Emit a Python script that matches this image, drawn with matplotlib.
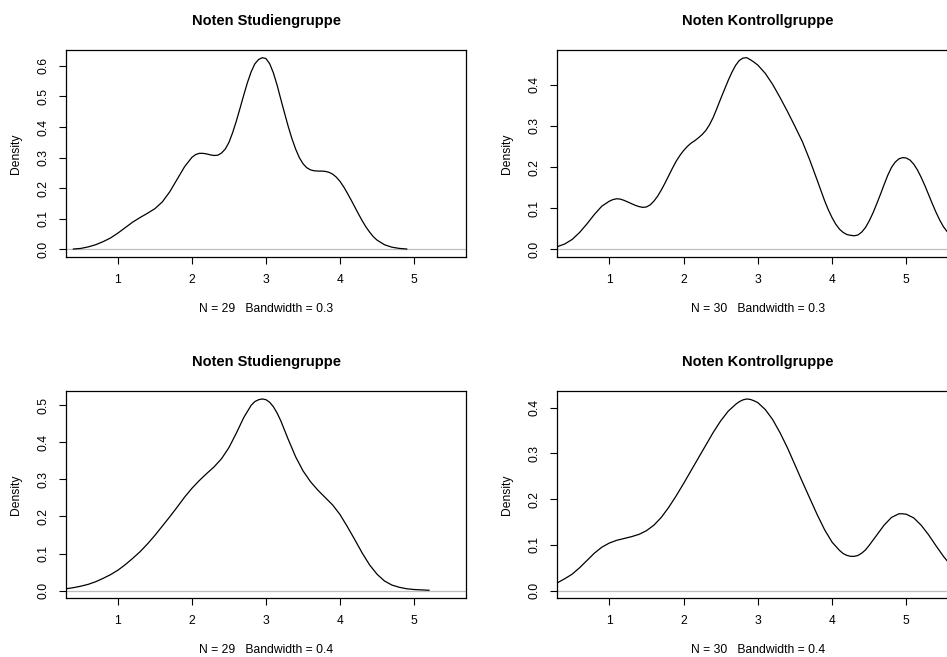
import matplotlib
matplotlib.use("Agg")
import matplotlib.pyplot as plt

plt.rcParams['font.family'] = ['Liberation Sans', 'DejaVu Sans']

# ---- Data (density curves) ----
studien_bw03_x = [0.40, 0.50, 0.60, 0.70, 0.80, 0.90, 1.00, 1.10, 1.20, 1.30, 1.40, 1.50, 1.60,
                  1.70, 1.80, 1.90, 2.00, 2.05, 2.10, 2.15, 2.20, 2.25, 2.30, 2.35, 2.40, 2.45,
                  2.50, 2.55, 2.60, 2.65, 2.70, 2.75, 2.80, 2.85, 2.90, 2.95, 3.00, 3.05, 3.10,
                  3.15, 3.20, 3.25, 3.30, 3.35, 3.40, 3.45, 3.50, 3.55, 3.60, 3.65, 3.70, 3.75,
                  3.80, 3.85, 3.90, 3.95, 4.00, 4.05, 4.10, 4.15, 4.20, 4.25, 4.30, 4.35, 4.40,
                  4.45, 4.50, 4.60, 4.70, 4.80, 4.90]
studien_bw03_y = [0.001, 0.003, 0.008, 0.015, 0.025, 0.037, 0.053, 0.071, 0.089, 0.104, 0.118, 0.133, 0.155,
                  0.188, 0.229, 0.270, 0.301, 0.310, 0.314, 0.314, 0.312, 0.309, 0.307, 0.308, 0.315, 0.328,
                  0.350, 0.382, 0.420, 0.462, 0.505, 0.546, 0.581, 0.607, 0.621, 0.627, 0.624, 0.607, 0.577,
                  0.537, 0.491, 0.446, 0.402, 0.362, 0.328, 0.300, 0.280, 0.267, 0.260, 0.257, 0.256, 0.256,
                  0.255, 0.252, 0.246, 0.236, 0.222, 0.204, 0.183, 0.161, 0.138, 0.115, 0.093, 0.073, 0.056,
                  0.041, 0.030, 0.015, 0.007, 0.003, 0.001]

kontroll_bw03_x = [0.30, 0.40, 0.50, 0.60, 0.70, 0.80, 0.90, 1.00, 1.05, 1.10, 1.15, 1.20, 1.25,
                   1.30, 1.35, 1.40, 1.45, 1.50, 1.55, 1.60, 1.65, 1.70, 1.75, 1.80, 1.85, 1.90,
                   1.95, 2.00, 2.05, 2.10, 2.15, 2.20, 2.25, 2.30, 2.35, 2.40, 2.45, 2.50, 2.55,
                   2.60, 2.65, 2.70, 2.75, 2.80, 2.85, 2.90, 2.95, 3.00, 3.10, 3.20, 3.30, 3.40,
                   3.50, 3.60, 3.70, 3.80, 3.90, 3.95, 4.00, 4.05, 4.10, 4.15, 4.20, 4.25, 4.30,
                   4.35, 4.40, 4.45, 4.50, 4.55, 4.60, 4.65, 4.70, 4.75, 4.80, 4.85, 4.90, 4.95,
                   5.00, 5.05, 5.10, 5.15, 5.20, 5.25, 5.30, 5.35, 5.40, 5.45, 5.50, 5.55, 5.60,
                   5.70]
kontroll_bw03_y = [0.0065, 0.013, 0.024, 0.041, 0.062, 0.085, 0.105, 0.117, 0.121, 0.123, 0.122, 0.119, 0.115,
                   0.111, 0.107, 0.104, 0.102, 0.103, 0.108, 0.117, 0.129, 0.144, 0.161, 0.179, 0.197, 0.214,
                   0.228, 0.240, 0.250, 0.258, 0.264, 0.271, 0.279, 0.289, 0.303, 0.321, 0.343, 0.366, 0.388,
                   0.410, 0.430, 0.447, 0.459, 0.465, 0.466, 0.461, 0.455, 0.448, 0.428, 0.401, 0.369, 0.335,
                   0.299, 0.262, 0.217, 0.168, 0.118, 0.096, 0.077, 0.061, 0.049, 0.041, 0.036, 0.034, 0.033,
                   0.035, 0.042, 0.053, 0.069, 0.088, 0.110, 0.133, 0.157, 0.180, 0.199, 0.212, 0.220, 0.223,
                   0.222, 0.217, 0.207, 0.193, 0.175, 0.155, 0.133, 0.111, 0.090, 0.071, 0.055, 0.043, 0.033,
                   0.019]

studien_bw04_x = [0.30, 0.40, 0.50, 0.60, 0.70, 0.80, 0.90, 1.00, 1.10, 1.20, 1.30, 1.40, 1.50,
                  1.60, 1.70, 1.80, 1.90, 2.00, 2.10, 2.20, 2.30, 2.40, 2.50, 2.60, 2.70, 2.80,
                  2.85, 2.90, 2.95, 3.00, 3.05, 3.10, 3.15, 3.20, 3.30, 3.40, 3.50, 3.60, 3.70,
                  3.80, 3.90, 4.00, 4.10, 4.20, 4.30, 4.40, 4.50, 4.60, 4.70, 4.80, 4.90, 5.00,
                  5.10, 5.20]
studien_bw04_y = [0.005, 0.008, 0.012, 0.017, 0.024, 0.033, 0.043, 0.055, 0.070, 0.087, 0.105, 0.126, 0.149,
                  0.174, 0.199, 0.225, 0.252, 0.276, 0.297, 0.316, 0.334, 0.356, 0.386, 0.425, 0.467, 0.500,
                  0.510, 0.515, 0.517, 0.515, 0.508, 0.496, 0.479, 0.458, 0.408, 0.361, 0.323, 0.294, 0.271,
                  0.251, 0.231, 0.205, 0.172, 0.137, 0.101, 0.069, 0.044, 0.026, 0.015, 0.009, 0.005, 0.003,
                  0.002, 0.001]

kontroll_bw04_x = [0.30, 0.40, 0.50, 0.60, 0.70, 0.80, 0.90, 1.00, 1.10, 1.20, 1.30, 1.40, 1.50,
                   1.60, 1.70, 1.80, 1.90, 2.00, 2.10, 2.20, 2.30, 2.40, 2.50, 2.60, 2.70, 2.75,
                   2.80, 2.85, 2.90, 2.95, 3.00, 3.10, 3.20, 3.30, 3.40, 3.50, 3.60, 3.70, 3.80,
                   3.90, 4.00, 4.10, 4.15, 4.20, 4.25, 4.30, 4.35, 4.40, 4.45, 4.50, 4.60, 4.70,
                   4.80, 4.90, 4.95, 5.00, 5.10, 5.20, 5.30, 5.40, 5.50, 5.60, 5.70]
kontroll_bw04_y = [0.017, 0.026, 0.036, 0.050, 0.066, 0.082, 0.095, 0.104, 0.110, 0.114, 0.118, 0.123, 0.131,
                   0.143, 0.160, 0.182, 0.207, 0.234, 0.262, 0.290, 0.318, 0.346, 0.371, 0.392, 0.407, 0.413,
                   0.417, 0.419, 0.418, 0.415, 0.411, 0.396, 0.374, 0.345, 0.312, 0.275, 0.238, 0.202, 0.166,
                   0.133, 0.106, 0.088, 0.081, 0.077, 0.075, 0.075, 0.077, 0.082, 0.089, 0.099, 0.121, 0.143,
                   0.160, 0.168, 0.168, 0.167, 0.159, 0.143, 0.122, 0.098, 0.075, 0.055, 0.038]

titles = ["Noten Studiengruppe", "Noten Kontrollgruppe", "Noten Studiengruppe", "Noten Kontrollgruppe"]
xlabels = ["N = 29   Bandwidth = 0.3", "N = 30   Bandwidth = 0.3",
           "N = 29   Bandwidth = 0.4", "N = 30   Bandwidth = 0.4"]
yticks_list = [[0.0, 0.1, 0.2, 0.3, 0.4, 0.5, 0.6],
               [0.0, 0.1, 0.2, 0.3, 0.4],
               [0.0, 0.1, 0.2, 0.3, 0.4, 0.5],
               [0.0, 0.1, 0.2, 0.3, 0.4]]
xticks = [1, 2, 3, 4, 5]
curves = [(studien_bw03_x, studien_bw03_y), (kontroll_bw03_x, kontroll_bw03_y),
          (studien_bw04_x, studien_bw04_y), (kontroll_bw04_x, kontroll_bw04_y)]

W, H = 947, 657
fig = plt.figure(figsize=(W / 100, H / 100), dpi=100)

# axes boxes in pixels: (left, top, right, bottom)
boxes = [(66, 50, 466, 257), (557.3, 50, 958.3, 257),
         (66, 391.3, 466, 598.3), (557.3, 391.3, 958.3, 598.3)]

for i, (l, t, r, b) in enumerate(boxes):
    ax = fig.add_axes([l / W, 1 - b / H, (r - l) / W, (b - t) / H])
    xs, ys = curves[i]
    ymax = max(ys)
    ax.axhline(0, color='#BEBEBE', lw=0.9, zorder=1)
    ax.plot(xs, ys, color='black', lw=0.9, zorder=2, solid_joinstyle='round')
    ax.set_xlim(0.3, 5.7)
    ax.set_ylim(-0.04 * ymax, 1.04 * ymax)
    ax.set_xticks(xticks)
    ax.set_xticklabels([str(v) for v in xticks], fontsize=8.7)
    yt = yticks_list[i]
    ax.set_yticks(yt)
    ax.set_yticklabels([f"{v:.1f}" for v in yt], fontsize=8.7, rotation=90, va='center')
    ax.tick_params(axis='both', direction='out', length=5, width=0.8, color='black')
    ax.tick_params(axis='x', pad=7)
    ax.tick_params(axis='y', pad=7)
    for sp in ax.spines.values():
        sp.set_linewidth(0.9)
        sp.set_color('black')
    w_px = r - l
    h_px = b - t
    ax.set_title(titles[i], fontsize=10.5, fontweight='bold', y=1 + 29 / h_px, pad=0, va='center')
    ax.set_xlabel(xlabels[i], fontsize=8.7, va='center')
    ax.xaxis.set_label_coords(0.5, -52 / h_px)
    ax.set_ylabel("Density", fontsize=8.7, va='center')
    ax.yaxis.set_label_coords(-50 / w_px, 0.5)

fig.savefig("out.png", dpi=100)
